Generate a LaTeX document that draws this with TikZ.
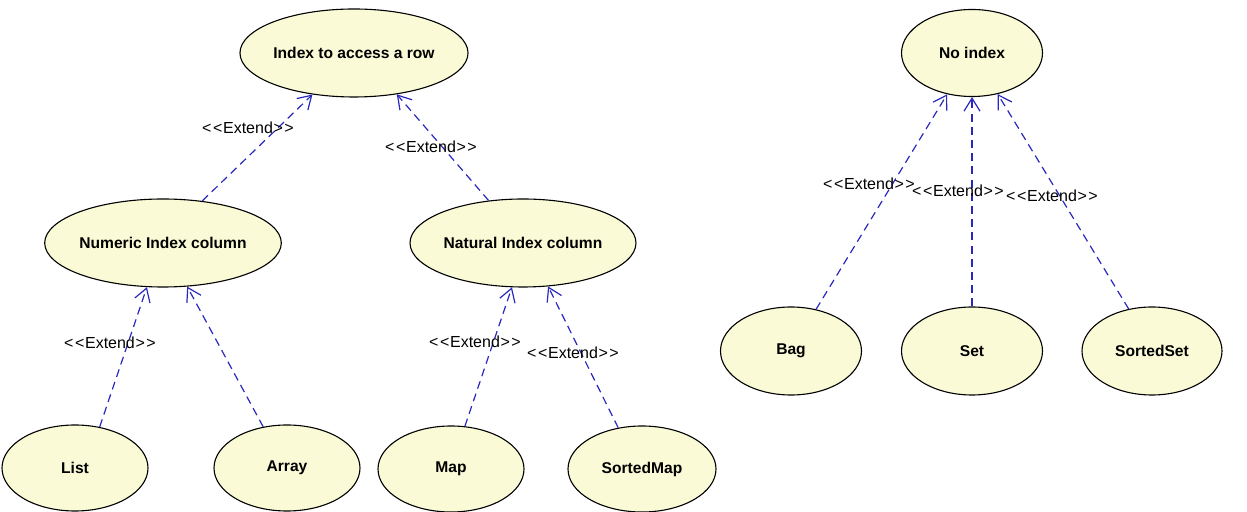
\documentclass[tikz,border=0pt]{standalone}
\usepackage{fontspec}
\setmainfont{Liberation Sans}
\usetikzlibrary{shapes.geometric,arrows.meta}
\definecolor{casefill}{RGB}{250,250,214}
\definecolor{extblue}{RGB}{40,40,190}
% stereotype text; the kerns keep the angle brackets apart as single glyphs
\newcommand{\extendtext}{<\kern0.8pt<\kern0.3pt Extend\kern0.3pt>\kern0.8pt>}
\tikzset{
  usecase/.style={ellipse, draw=black, line width=0.55pt, fill=casefill,
    inner sep=0pt, font=\fontsize{7.8}{9}\selectfont\bfseries},
  bigcase/.style={usecase, minimum width=110pt, minimum height=44pt},
  smallcase/.style={usecase, minimum width=73pt, minimum height=43pt},
  extend/.style={draw=extblue, line width=0.6pt, dash pattern=on 4pt off 2.6pt,
    -{Straight Barb[length=6.5pt, width=8pt]}},
  extlabel/.style={inner sep=0pt, font=\fontsize{8}{9}\selectfont}
}
\begin{document}
\begin{tikzpicture}[x=0.5pt, y=-0.5pt]
\useasboundingbox (0,0) rectangle (1247,512);

% use cases
\node[bigcase, minimum width=107.5pt] (index) at (354,53) {Index to access a row};
\node[bigcase, minimum width=115.5pt] (numeric) at (163,243) {Numeric Index column};
\node[bigcase, minimum width=113pt] (natural) at (523,243) {Natural Index column};
\node[smallcase] (list) at (75,468) {List};
\node[smallcase] (array) at (287,468) {Array};
\node[smallcase] (map) at (451,469) {Map};
\node[smallcase, minimum width=74pt] (sortedmap) at (642,469) {SortedMap};
\node[smallcase, minimum width=70.5pt, minimum height=43.5pt] (noindex) at (972,53) {No index};
\node[smallcase, minimum width=70.5pt, minimum height=44pt] (bag) at (791,351) {Bag};
\node[smallcase, minimum width=70.5pt, minimum height=44pt] (set) at (972,351) {Set};
\node[smallcase, minimum width=70pt, minimum height=44pt] (sortedset) at (1152,351) {SortedSet};

% extend relations
\draw[extend] (numeric.47) -- (index.225);
\draw[extend] (natural.129) -- (index.316);
\draw[extend] (list.59) -- (numeric.250);
\draw[extend] (array.120) -- (numeric.299);
\draw[extend] (map.72) -- (natural.256);
\draw[extend] (sortedmap.120) -- (natural.300);
\draw[extend] (bag.59) -- (noindex.239);
\draw[extend] (set.90) -- (noindex.270);
\draw[extend] (sortedset.119) -- (noindex.302);

% stereotype labels
\node[extlabel] (l1) at (248,128) {\extendtext};
\node[extlabel] (l2) at (431,147) {\extendtext};
\node[extlabel] (l3) at (110,343) {\extendtext};
\node[extlabel] (l4) at (475,342) {\extendtext};
\node[extlabel] (l5) at (573,353) {\extendtext};
\node[extlabel] (l6) at (869,184) {\extendtext};
\node[extlabel] (l7) at (958,191) {\extendtext};
\node[extlabel] (l8) at (1052,196) {\extendtext};
\end{tikzpicture}
\end{document}
